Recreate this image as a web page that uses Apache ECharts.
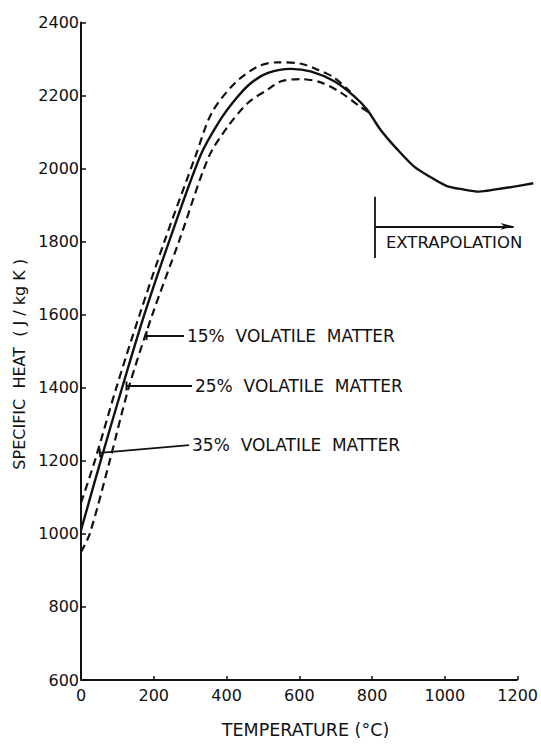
<!DOCTYPE html>
<html>
<head>
<meta charset="utf-8">
<script src="https://cdn.jsdelivr.net/npm/echarts@6/dist/echarts.min.js"></script>
<style>
html,body{margin:0;padding:0;background:#fff;}
#chart{width:541px;height:744px;}
</style>
</head>
<body>
<div id="chart"></div>
<script>
// Temperature (°C) and specific heat (J/kg K)
const vm25_T = [0,54,113,174,242,328,378,424,468,514,577,631,696,751,786,822,868,914,960,1004,1050,1094,1140,1186,1243];
const vm25_C = [1010,1200,1400,1600,1800,2035,2126,2189,2235,2262,2273,2266,2239,2198,2162,2108,2054,2007,1977,1953,1943,1937,1943,1950,1960];
const vm35_T = [0,38,97,161,229,315,360,424,487,541,605,650,696,740];
const vm35_C = [1085,1200,1400,1600,1800,2035,2154,2235,2280,2291,2287,2271,2249,2210];
const vm15_T = [0,24,79,131,196,269,351,405,460,514,550,605,659,714,767,790];
const vm15_C = [950,1000,1200,1400,1600,1800,2032,2117,2181,2217,2239,2245,2236,2208,2170,2155];

// axis ticks
const xTickValues = [0,200,400,600,800,1000,1200];
const xRangeMax = 1245;          // plotted range runs slightly past the last tick (curve overshoots axis end)
const yTicks = {min:600, max:2400, interval:200};

const label15 = '15%  VOLATILE  MATTER';
const label25 = '25%  VOLATILE  MATTER';
const label35 = '35%  VOLATILE  MATTER';
const labelExtra = 'EXTRAPOLATION';
// leader lines: [start], [end] in data coordinates
const lead15 = [[180,1543],[283,1543]];
const lead25 = [[125,1405],[305,1405]];
const lead35 = [[52,1222],[297,1243]];
const extraBar = [[808,1923],[808,1755]];
const extraArrow = [[808,1842],[1189,1842]];
const extraText = [838,1798];

const pairs = (a,b) => a.map((v,i)=>[v,b[i]]);
const INK = '#111';
const FONT = 'DejaVu Sans';

const chart = echarts.init(document.getElementById('chart'), null, {renderer:'svg'});

function leader(pts, text){
  return [
    {coord: pts[0], symbol:'rect', symbolSize:[9,2]},
    {coord: pts[1], symbol:'none',
     label:{show:true, position:'end', formatter:text, distance:3, color:INK,
            fontFamily:FONT, fontSize:17}}
  ];
}

const xFirst = xTickValues[0], xLast = xTickValues[xTickValues.length-1];

chart.setOption({
  animation:false,
  backgroundColor:'#fff',
  grid:{left:81, right:3, top:22.5, bottom:60},
  xAxis:{
    type:'value', min:xFirst, max:xRangeMax,
    name:'TEMPERATURE (°C)', nameLocation:'middle', nameGap:41,
    nameTextStyle:{color:INK, fontFamily:FONT, fontSize:17.5, padding:[0,4,0,0]},
    axisLine:{show:false},
    axisTick:{show:true, inside:true, length:4, customValues:xTickValues, lineStyle:{color:INK, width:1.5}},
    axisLabel:{color:INK, fontFamily:FONT, fontSize:16, margin:7, customValues:xTickValues, formatter:v=>String(v)},
    splitLine:{show:false}
  },
  yAxis:{
    type:'value', min:yTicks.min, max:yTicks.max, interval:yTicks.interval,
    name:'SPECIFIC  HEAT  ( J / kg K )', nameLocation:'middle', nameGap:50,
    nameTextStyle:{color:INK, fontFamily:FONT, fontSize:16, padding:[0,26,0,0]},
    axisLine:{show:true, lineStyle:{color:INK, width:2}},
    axisTick:{show:true, inside:true, length:5, lineStyle:{color:INK, width:1.5}},
    axisLabel:{color:INK, fontFamily:FONT, fontSize:16, margin:2, formatter:v=>String(v)},
    splitLine:{show:false}
  },
  series:[
    {
      name:'25% volatile matter', type:'line', data:pairs(vm25_T, vm25_C),
      smooth:0.3, symbol:'none', clip:false, silent:true,
      lineStyle:{color:INK, width:2.4},
      markLine:{
        silent:true, animation:false,
        lineStyle:{color:INK, width:1.8, type:'solid'},
        label:{show:false},
        data:[
          // x-axis line, ending at the last tick
          [{coord:[xFirst, yTicks.min], symbol:'none', lineStyle:{width:2}},
           {coord:[xLast, yTicks.min], symbol:'none'}],
          leader(lead15, label15),
          leader(lead25, label25),
          leader(lead35, label35),
          [{coord:extraBar[0], symbol:'none'},{coord:extraBar[1], symbol:'none'}],
          [{coord:extraArrow[0], symbol:'none'},{coord:extraArrow[1], symbol:'arrow', symbolSize:[5,13]}]
        ]
      },
      markPoint:{
        silent:true, animation:false,
        data:[{coord:extraText, symbol:'circle', symbolSize:0,
               label:{show:true, position:'right', distance:0, formatter:labelExtra,
                      color:INK, fontFamily:FONT, fontSize:16.5}}]
      }
    },
    {
      name:'35% volatile matter', type:'line', data:pairs(vm35_T, vm35_C),
      smooth:0.3, symbol:'none', silent:true,
      lineStyle:{color:INK, width:2.2, type:[8,5]}
    },
    {
      name:'15% volatile matter', type:'line', data:pairs(vm15_T, vm15_C),
      smooth:0.3, symbol:'none', silent:true,
      lineStyle:{color:INK, width:2.2, type:[8,5]}
    }
  ]
});
</script>
</body>
</html>
